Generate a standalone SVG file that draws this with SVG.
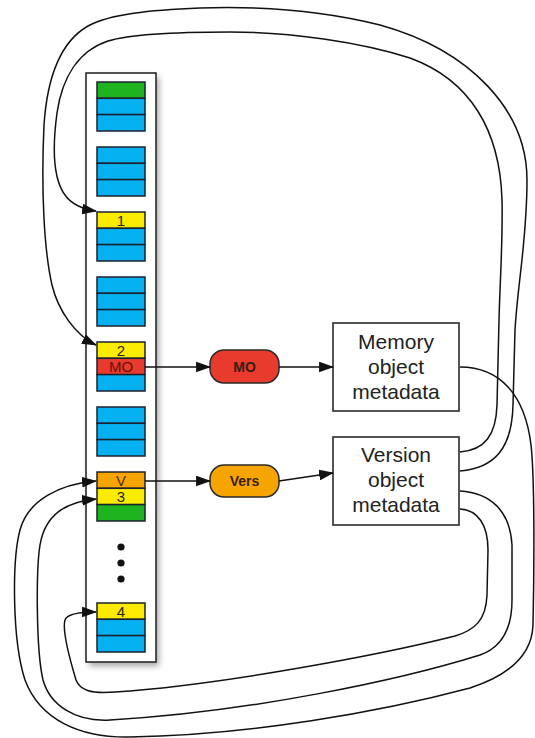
<svg xmlns="http://www.w3.org/2000/svg" width="535" height="738" viewBox="0 0 535 738">
<style>
.cell{stroke:#1e2230;stroke-width:1.5}
.g{fill:#1fb41f}.b{fill:#05b1f0}.y{fill:#fbeb00}.r{fill:#e93a2e}.o{fill:#f6a500}
.ct{font-family:"Liberation Sans",Arial,sans-serif;font-size:15px;text-anchor:middle;fill:#2a2610}
.box{fill:#fff;stroke:#2a2a2a;stroke-width:1.6}
.bt{font-family:"Liberation Sans",Arial,sans-serif;font-size:21px;text-anchor:middle;fill:#222}
.nt{font-family:"Liberation Sans",Arial,sans-serif;font-size:14px;font-weight:bold;text-anchor:middle;fill:#3a1d10}
.ln{fill:none;stroke:#111;stroke-width:1.5}
.ar{marker-end:url(#ah)}
</style>
<defs>
<marker id="ah" viewBox="0 0 14 10" refX="13" refY="5" markerWidth="15" markerHeight="11" markerUnits="userSpaceOnUse" orient="auto">
<path d="M0,0 L14,5 L0,10 z" fill="#111"/>
</marker>
<filter id="sh" x="-30%" y="-5%" width="160%" height="115%"><feGaussianBlur stdDeviation="3"/></filter>
</defs>

<g id="column">
<rect x="89" y="77" width="70" height="589" fill="#000" opacity="0.35" filter="url(#sh)"/>
<rect x="86" y="73" width="70" height="589" fill="#fff" stroke="#2a2a2a" stroke-width="1.6"/>
</g>

<g id="block1">
<rect class="cell g" x="97" y="82" width="48" height="16.3"/>
<rect class="cell b" x="97" y="98.3" width="48" height="16.3"/>
<rect class="cell b" x="97" y="114.6" width="48" height="16.4"/>
</g>
<g id="block2">
<rect class="cell b" x="97" y="147" width="48" height="16.3"/>
<rect class="cell b" x="97" y="163.3" width="48" height="16.3"/>
<rect class="cell b" x="97" y="179.6" width="48" height="16.4"/>
</g>
<g id="block3">
<rect class="cell y" x="97" y="212" width="48" height="16.3"/>
<rect class="cell b" x="97" y="228.3" width="48" height="16.3"/>
<rect class="cell b" x="97" y="244.6" width="48" height="16.4"/>
<text class="ct" x="121" y="226">1</text>
</g>
<g id="block4">
<rect class="cell b" x="97" y="277" width="48" height="16.3"/>
<rect class="cell b" x="97" y="293.3" width="48" height="16.3"/>
<rect class="cell b" x="97" y="309.6" width="48" height="16.4"/>
</g>
<g id="block5">
<rect class="cell y" x="97" y="342" width="48" height="16.3"/>
<rect class="cell r" x="97" y="358.3" width="48" height="16.3"/>
<rect class="cell b" x="97" y="374.6" width="48" height="16.4"/>
<text class="ct" x="121" y="356">2</text>
<text class="ct" x="121" y="372" style="fill:#6a1008">MO</text>
</g>
<g id="block6">
<rect class="cell b" x="97" y="407" width="48" height="16.3"/>
<rect class="cell b" x="97" y="423.3" width="48" height="16.3"/>
<rect class="cell b" x="97" y="439.6" width="48" height="16.4"/>
</g>
<g id="block7">
<rect class="cell o" x="97" y="472" width="48" height="16.3"/>
<rect class="cell y" x="97" y="488.3" width="48" height="16.3"/>
<rect class="cell g" x="97" y="504.6" width="48" height="16.4"/>
<text class="ct" x="121" y="486" style="fill:#5a2e08">V</text>
<text class="ct" x="121" y="502">3</text>
</g>
<g id="dots">
<circle cx="121" cy="547" r="3.6" fill="#111"/>
<circle cx="121" cy="563" r="3.6" fill="#111"/>
<circle cx="121" cy="579" r="3.6" fill="#111"/>
</g>
<g id="block8">
<rect class="cell y" x="97" y="603" width="48" height="16.3"/>
<rect class="cell b" x="97" y="619.3" width="48" height="16.3"/>
<rect class="cell b" x="97" y="635.6" width="48" height="16.4"/>
<text class="ct" x="121" y="617">4</text>
</g>

<g id="mo-node">
<rect x="210" y="350" width="69" height="33" rx="14" fill="#e93a2e" stroke="#2a2a2a" stroke-width="1.5"/>
<text class="nt" x="244.5" y="371.5">MO</text>
</g>
<g id="vers-node">
<rect x="210" y="465" width="69" height="32" rx="14" fill="#f6a500" stroke="#2a2a2a" stroke-width="1.5"/>
<text class="nt" x="244.5" y="486">Vers</text>
</g>

<g id="memory-box">
<rect class="box" x="333" y="323" width="126" height="88"/>
<text class="bt" x="396" y="349">Memory</text>
<text class="bt" x="396" y="374">object</text>
<text class="bt" x="396" y="399">metadata</text>
</g>
<g id="version-box">
<rect class="box" x="333" y="437" width="126" height="88"/>
<text class="bt" x="396" y="462">Version</text>
<text class="bt" x="396" y="487">object</text>
<text class="bt" x="396" y="512">metadata</text>
</g>

<g id="connectors">
<path class="ln ar" d="M145 367 L210 367"/>
<path class="ln ar" d="M279 367 L333 367"/>
<path class="ln ar" d="M145 481 L210 481"/>
<path class="ln ar" d="M279 481 L333 473"/>
<path class="ln ar" d="M460 471 C495 468 512 448 513 405 L515 330 C518 280 527 240 527 180 C527 110 470 50 380 25 C320 10 260 6 200 8 C150 10 110 14 88 26 C60 42 47 80 44 125 C41 190 44 250 52 285 C58 310 75 335 96 345"/>
<path class="ln ar" d="M460 452 C485 450 496 435 497 405 L499 320 C500 280 503 240 502 200 C500 130 470 80 410 58 C360 42 290 32 230 32 C170 32 128 35 108 41 C78 51 62 78 57 113 C52 150 54 180 65 195 C72 205 82 209 96 211"/>
<path class="ln ar" d="M460 367 C500 367 525 395 531 445 C535 480 534 580 533 625 C532 655 510 675 470 688 C380 712 250 735 130 737 C80 738 40 720 25 680 C12 640 12 560 20 530 C28 500 60 484 96 481"/>
<path class="ln ar" d="M460 491 C490 493 510 510 512 545 L512 600 C512 630 500 648 480 655 C400 680 250 712 110 720 C75 722 50 705 43 680 C36 650 36 570 40 545 C45 515 65 502 96 499"/>
<path class="ln ar" d="M460 509 C478 510 488 525 488 550 L487 595 C486 620 475 630 455 636 C380 655 220 685 115 692 C90 694 80 690 76 680 C70 660 62 630 65 620 C67 614 78 612 96 612"/>
</g>
</svg>
